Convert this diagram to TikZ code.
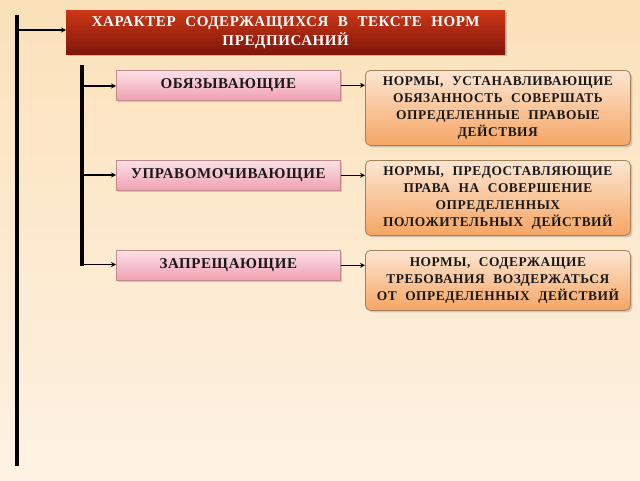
\documentclass[tikz,border=0pt]{standalone}
\usepackage{fontspec}
\setmainfont{Liberation Serif}
\newfontfamily\spaced[LetterSpace=4,WordSpace=2.2]{Liberation Serif}
\usetikzlibrary{arrows.meta,shadows,positioning}
\definecolor{titletop}{RGB}{205,55,22}
\definecolor{titlebot}{RGB}{128,22,10}
\definecolor{pinktop}{RGB}{253,225,232}
\definecolor{pinkbot}{RGB}{240,160,178}
\definecolor{desctop}{RGB}{253,230,210}
\definecolor{descbot}{RGB}{245,165,100}
\definecolor{bgtop}{RGB}{251,225,185}
\definecolor{bgbot}{RGB}{254,242,228}
\begin{document}
\begin{tikzpicture}[x=1pt,y=-1pt,
  titlebox/.style={draw=none, top color=titletop, bottom color=titlebot, drop shadow={shadow xshift=2pt,shadow yshift=-2pt,opacity=0.4}, text=white, font=\spaced\bfseries\fontsize{15}{19}\selectfont, align=center, inner sep=0pt},
  kindbox/.style={draw=red!30!gray!70, line width=0.6pt, top color=pinktop, bottom color=pinkbot, drop shadow={shadow xshift=2pt,shadow yshift=-2pt,opacity=0.35}, font=\spaced\bfseries\fontsize{15}{16}\selectfont, text=black!90, inner sep=0pt},
  descbox/.style={draw=brown!60!gray, line width=0.8pt, rounded corners=5pt, top color=desctop, bottom color=descbot, drop shadow={shadow xshift=2pt,shadow yshift=-2pt,opacity=0.35}, font=\spaced\bfseries\fontsize{13.4}{17}\selectfont, text=black!90, align=center, inner sep=0pt},
  bar/.style={line width=3.5pt, black},
  link/.style={line width=1.2pt, black, -{Stealth[length=5pt,width=5pt]}}]
\useasboundingbox (0,0) rectangle (640,480);
\shade[top color=bgtop, bottom color=bgbot] (0,0) rectangle (640,480);

\node[titlebox, minimum width=439pt, minimum height=44pt, anchor=north west] (title) at (66,10) {ХАРАКТЕР СОДЕРЖАЩИХСЯ В ТЕКСТЕ НОРМ\\ПРЕДПИСАНИЙ};

\node[kindbox, minimum width=224pt, minimum height=30pt, anchor=north west] (k1) at (116,70) {ОБЯЗЫВАЮЩИЕ};
\node[kindbox, minimum width=224pt, minimum height=30pt, anchor=north west] (k2) at (116,160) {УПРАВОМОЧИВАЮЩИЕ};
\node[kindbox, minimum width=224pt, minimum height=30pt, anchor=north west] (k3) at (116,250) {ЗАПРЕЩАЮЩИЕ};

\node[descbox, minimum width=265pt, minimum height=75pt, anchor=north west] (d1) at (365,70) {НОРМЫ, УСТАНАВЛИВАЮЩИЕ\\ОБЯЗАННОСТЬ СОВЕРШАТЬ\\ОПРЕДЕЛЕННЫЕ ПРАВОЫЕ\\ДЕЙСТВИЯ};
\node[descbox, minimum width=265pt, minimum height=75pt, anchor=north west] (d2) at (365,160) {НОРМЫ, ПРЕДОСТАВЛЯЮЩИЕ\\ПРАВА НА СОВЕРШЕНИЕ\\ОПРЕДЕЛЕННЫХ\\ПОЛОЖИТЕЛЬНЫХ ДЕЙСТВИЙ};
\node[descbox, minimum width=265pt, minimum height=60pt, anchor=north west] (d3) at (365,250) {НОРМЫ, СОДЕРЖАЩИЕ\\ТРЕБОВАНИЯ ВОЗДЕРЖАТЬСЯ\\ОТ ОПРЕДЕЛЕННЫХ ДЕЙСТВИЙ};

\coordinate (mtop) at (17,15);
\coordinate (mbot) at (17,466);
\draw[bar] (mtop) -- (mbot);
\coordinate (mj) at (17,30);
\draw[link] (mj) -- (mj -| title.west);

\coordinate (stop) at (82,65);
\coordinate (sbot) at (82,266);
\draw[bar] (stop) -- (sbot);
\coordinate (s1) at (82,86);
\coordinate (s2) at (82,175);
\coordinate (s3) at (82,264.5);
\draw[link] (s1) -- (s1 -| k1.west);
\draw[link] (s2) -- (s2 -| k2.west);
\draw[link] (s3) -- (s3 -| k3.west);

\draw[link] (k1.east) -- (k1.east -| d1.west);
\draw[link] (k2.east) -- (k2.east -| d2.west);
\draw[link] (k3.east) -- (k3.east -| d3.west);
\end{tikzpicture}
\end{document}
